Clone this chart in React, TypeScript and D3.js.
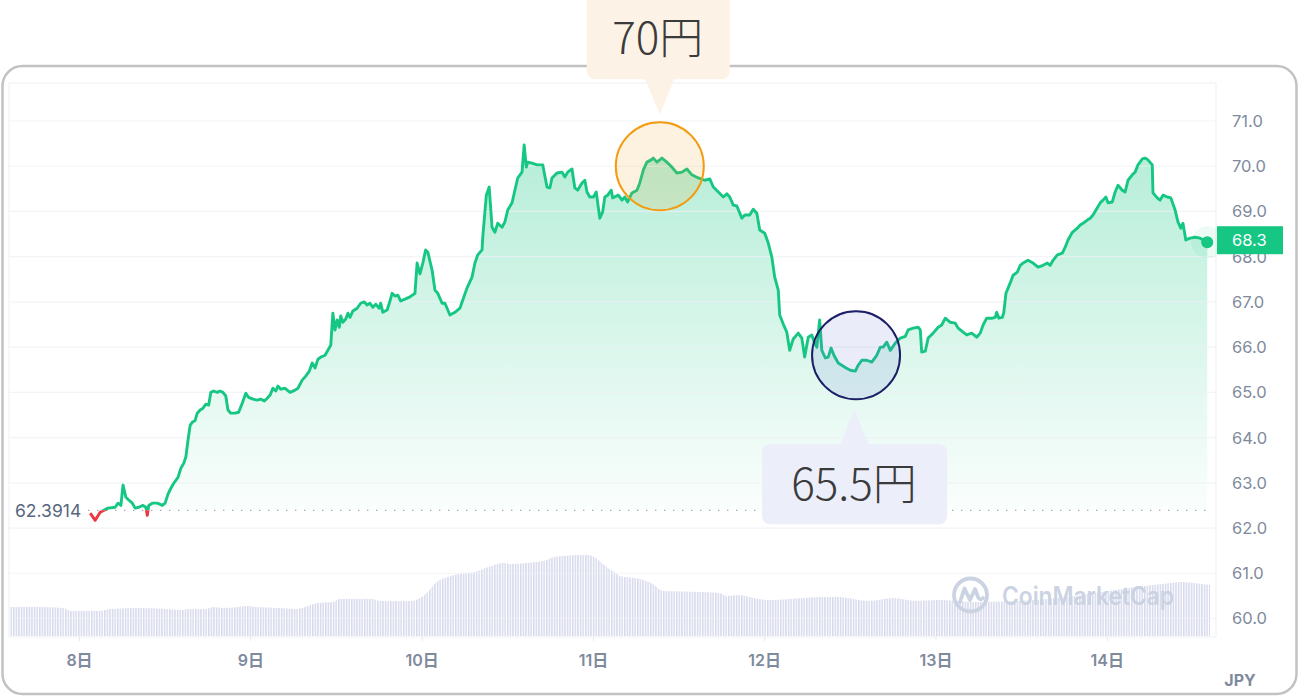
import { area, curveMonotoneX, line, scaleLinear } from "d3";

// hours since 8日 00:00 -> JPY price
const pricePoints: [number, number][] = [
  [1.5, 62.33], [2.2, 62.17], [2.9, 62.35], [3.4, 62.39], [4.0, 62.44], [5.0, 62.46], [5.4, 62.55], [5.8, 62.5],
  [6.1, 62.95], [6.5, 62.68], [6.9, 62.62], [7.4, 62.55], [7.8, 62.44], [8.3, 62.46], [8.9, 62.5], [9.3, 62.46],
  [9.5, 62.28], [9.7, 62.5], [10.2, 62.55], [10.9, 62.55], [11.6, 62.5], [12.0, 62.55], [12.4, 62.75], [12.8, 62.88],
  [13.2, 62.99], [13.8, 63.12], [14.2, 63.32], [14.6, 63.43], [14.9, 63.57], [15.2, 63.94], [15.5, 64.27], [15.8, 64.34],
  [16.2, 64.38], [16.5, 64.54], [16.9, 64.61], [17.3, 64.65], [17.7, 64.74], [18.1, 64.72], [18.4, 65.0], [18.8, 65.03],
  [19.3, 65.0], [19.7, 65.03], [20.1, 65.0], [20.5, 64.92], [20.8, 64.61], [21.2, 64.54], [21.8, 64.54], [22.3, 64.56],
  [22.8, 64.76], [23.3, 64.98], [23.7, 64.89], [24.3, 64.85], [24.9, 64.83], [25.4, 64.85], [25.9, 64.81], [26.3, 64.87],
  [26.7, 64.94], [27.1, 65.09], [27.5, 65.03], [27.8, 65.14], [28.2, 65.07], [28.8, 65.09], [29.5, 65.0], [30.2, 65.05],
  [30.6, 65.09], [31.2, 65.27], [31.7, 65.36], [32.2, 65.47], [32.6, 65.65], [33.0, 65.54], [33.4, 65.73], [33.8, 65.78],
  [34.4, 65.82], [34.8, 65.93], [35.2, 66.04], [35.5, 66.75], [35.8, 66.38], [36.1, 66.6], [36.4, 66.44], [36.6, 66.69],
  [36.9, 66.55], [37.3, 66.62], [37.6, 66.75], [37.9, 66.66], [38.3, 66.8], [38.9, 66.86], [39.4, 66.97], [39.9, 67.0],
  [40.3, 66.93], [40.7, 66.97], [41.1, 66.88], [41.5, 66.95], [42.0, 66.86], [42.2, 66.97], [42.5, 66.77], [43.1, 66.82],
  [43.5, 67.02], [43.8, 67.19], [44.2, 67.13], [44.6, 67.15], [45.0, 67.02], [45.6, 67.06], [46.3, 67.11], [47.0, 67.19],
  [47.3, 67.86], [47.7, 67.62], [48.1, 67.86], [48.5, 68.15], [48.8, 68.1], [49.4, 67.7], [49.8, 67.26], [50.2, 67.19],
  [50.8, 66.97], [51.2, 66.97], [51.9, 66.71], [52.6, 66.77], [53.3, 66.86], [53.7, 67.04], [54.3, 67.31], [55.0, 67.55],
  [55.4, 67.86], [55.8, 68.04], [56.4, 68.15], [56.5, 68.43], [57.0, 69.36], [57.4, 69.54], [57.8, 68.65], [58.2, 68.54],
  [58.6, 68.74], [59.2, 68.65], [59.6, 68.77], [60.0, 69.03], [60.6, 69.19], [61.0, 69.47], [61.4, 69.74], [62.0, 69.87],
  [62.3, 70.47], [62.6, 69.98], [62.8, 70.09], [63.4, 70.07], [64.1, 70.03], [64.9, 70.03], [65.5, 69.54], [65.9, 69.52],
  [66.2, 69.74], [66.9, 69.85], [67.6, 69.87], [68.0, 69.76], [68.4, 69.87], [69.0, 69.94], [69.4, 69.52], [69.8, 69.47],
  [70.4, 69.63], [70.8, 69.69], [71.1, 69.43], [71.5, 69.32], [72.0, 69.32], [72.4, 69.43], [72.6, 69.19], [72.9, 68.85],
  [73.3, 68.99], [73.6, 69.32], [74.0, 69.36], [74.5, 69.47], [74.7, 69.3], [75.5, 69.36], [76.0, 69.25], [76.4, 69.32],
  [76.8, 69.21], [77.4, 69.41], [78.1, 69.47], [78.5, 69.63], [79.0, 69.92], [79.5, 70.09], [80.1, 70.14], [80.4, 70.18],
  [80.9, 70.09], [81.6, 70.18], [82.3, 70.09], [83.0, 69.98], [83.7, 69.85], [84.4, 69.87], [85.1, 69.94], [85.8, 69.81],
  [86.7, 69.74], [87.6, 69.69], [88.3, 69.72], [88.8, 69.54], [89.5, 69.43], [90.2, 69.32], [90.7, 69.39], [91.1, 69.32],
  [91.6, 69.14], [92.1, 69.12], [92.8, 68.85], [93.2, 68.92], [93.9, 68.92], [94.4, 69.05], [94.9, 68.96], [95.3, 68.59],
  [96.0, 68.52], [96.5, 68.3], [97.0, 67.99], [97.4, 67.55], [97.9, 67.26], [98.1, 66.71], [98.6, 66.51], [99.1, 66.33],
  [99.5, 65.93], [100.0, 66.18], [100.7, 66.31], [101.2, 66.2], [101.6, 65.78], [102.1, 66.22], [102.6, 66.27], [103.0, 66.09],
  [103.3, 66.0], [103.7, 66.6], [104.0, 65.93], [104.5, 65.76], [104.9, 65.78], [105.3, 65.98], [105.7, 65.82], [106.3, 65.65],
  [106.8, 65.6], [107.4, 65.54], [108.0, 65.49], [108.7, 65.47], [109.1, 65.6], [109.6, 65.71], [110.3, 65.71], [111.0, 65.67],
  [111.7, 65.82], [112.2, 66.0], [112.6, 66.0], [113.1, 66.11], [113.6, 65.93], [114.3, 66.09], [115.0, 66.2], [115.7, 66.24],
  [116.1, 66.38], [116.8, 66.42], [117.5, 66.44], [117.8, 66.38], [118.0, 65.89], [118.5, 65.91], [118.9, 66.2], [119.6, 66.31],
  [120.3, 66.44], [120.8, 66.49], [121.3, 66.64], [122.0, 66.55], [122.7, 66.53], [123.1, 66.42], [123.8, 66.33], [124.3, 66.27],
  [125.0, 66.31], [125.7, 66.22], [126.2, 66.31], [126.6, 66.49], [127.1, 66.64], [127.9, 66.64], [128.3, 66.66], [128.5, 66.77],
  [128.8, 66.64], [129.3, 66.66], [129.5, 66.77], [129.8, 67.19], [130.4, 67.42], [130.8, 67.59], [131.4, 67.66], [131.8, 67.81],
  [132.2, 67.86], [132.9, 67.92], [133.6, 67.86], [134.3, 67.77], [135.0, 67.81], [135.6, 67.86], [136.0, 67.81], [136.4, 67.92],
  [137.0, 68.04], [137.7, 68.08], [138.1, 68.21], [138.5, 68.37], [139.1, 68.54], [139.8, 68.63], [140.2, 68.7], [140.6, 68.74],
  [141.2, 68.81], [141.6, 68.85], [142.0, 68.92], [142.6, 69.08], [143.0, 69.19], [143.4, 69.25], [143.8, 69.32], [144.1, 69.19],
  [144.7, 69.21], [145.1, 69.43], [145.5, 69.58], [146.1, 69.47], [146.5, 69.43], [146.9, 69.69], [147.5, 69.81], [147.9, 69.87],
  [148.3, 70.03], [148.9, 70.16], [149.3, 70.18], [149.7, 70.14], [150.3, 70.03], [150.4, 69.41], [151.0, 69.3], [151.4, 69.25],
  [151.8, 69.36], [152.4, 69.32], [152.9, 69.3], [153.5, 69.03], [153.9, 68.77], [154.3, 68.63], [154.6, 68.74], [155.0, 68.37],
  [155.6, 68.41], [156.3, 68.43], [157.0, 68.41], [158.0, 68.32],
];

// hours -> relative volume (envelope of the volume bars)
const volumePoints: [number, number][] = [
  [-9.7, 29], [-5.5, 29], [-2.3, 28], [-1.2, 25], [2.7, 25], [4.4, 27], [8.3, 28], [12.1, 27], [14.4, 26], [15.5, 27],
  [17.7, 27], [18.8, 29], [20.0, 28], [22.2, 29], [23.3, 30], [24.9, 29], [27.7, 28], [30.5, 27], [31.6, 29], [33.3, 33],
  [35.5, 34], [36.4, 37], [41.0, 37], [42.1, 35], [44.3, 35], [46.6, 35], [47.7, 38], [48.8, 44], [49.9, 53], [51.6, 59],
  [53.2, 62], [55.4, 64], [57.7, 70], [59.3, 73], [60.5, 72], [62.7, 73], [65.5, 76], [66.5, 79], [70.9, 81], [72.1, 79],
  [73.2, 73], [74.0, 68], [74.9, 64], [75.7, 60], [78.5, 57], [80.1, 53], [81.8, 45], [86.8, 44], [89.6, 43], [90.7, 40],
  [92.4, 41], [95.1, 37], [96.7, 36], [99.5, 37], [104.0, 39], [106.3, 39], [110.6, 35], [114.0, 38], [117.3, 35], [120.1, 36],
  [125.6, 34], [134.0, 36], [145.1, 46], [147.9, 49], [151.7, 52], [154.5, 54], [156.1, 53], [158.4, 51],
];

const dayLabels = ["8日", "9日", "10日", "11日", "12日", "13日", "14日"];
const priceTicks = [60, 61, 62, 63, 64, 65, 66, 67, 68, 69, 70, 71];
const basePrice = 62.3914;
const lastPrice = 68.3;

const highlights = [
  { label: "70円", hour: 81.3, price: 70.0, side: "top", stroke: "#f39c12", fill: "rgba(243,156,18,0.13)", box: "#fdf2e6" },
  { label: "65.5円", hour: 108.8, price: 65.82, side: "bottom", stroke: "#1c1f66", fill: "rgba(96,108,214,0.13)", box: "#eceefa" },
];

const GREEN = "#16c784";
const RED = "#ea3943";
const AXIS = "#808a9d";
const FONT = "Inter, 'Noto Sans CJK JP', sans-serif";
const CALLOUT_FONT = "'Noto Sans CJK JP', 'Noto Sans', sans-serif";

export default function App() {
  const plot = { left: 9, right: 1216, top: 83, bottom: 637 };

  const x = scaleLinear().domain([0, 144]).range([79.5, 1107.3]);
  const y = scaleLinear().domain([60, 71]).range([618.5, 121]);
  const volY = scaleLinear().domain([0, 100]).range([636, 536]);

  const yBase = y(basePrice);
  const priceLine = line<[number, number]>().x((d) => x(d[0])).y((d) => y(d[1]));
  const priceArea = area<[number, number]>().x((d) => x(d[0])).y0(yBase).y1((d) => y(d[1]));
  const volArea = area<[number, number]>()
    .x((d) => x(d[0]))
    .y0(volY(0))
    .y1((d) => volY(d[1]))
    .curve(curveMonotoneX);

  const last = pricePoints[pricePoints.length - 1];
  const lx = x(last[0]);
  const ly = y(last[1]);

  return (
    <svg width={1300} height={697} style={{ position: "absolute", left: 0, top: 0, background: "#fff" }}>
      <defs>
        <linearGradient id="priceFill" gradientUnits="userSpaceOnUse" x1={0} x2={0} y1={y(70.5)} y2={yBase}>
          <stop offset="0%" stopColor={GREEN} stopOpacity={0.32} />
          <stop offset="100%" stopColor={GREEN} stopOpacity={0.02} />
        </linearGradient>
        <pattern id="volStripes" width={2.6} height={10} patternUnits="userSpaceOnUse">
          <rect width={1.5} height={10} fill="#d6d9ec" />
        </pattern>
        <clipPath id="aboveBase">
          <rect x={0} y={0} width={1300} height={yBase} />
        </clipPath>
        <clipPath id="belowBase">
          <rect x={0} y={yBase} width={1300} height={697 - yBase} />
        </clipPath>
      </defs>

      {/* outer card */}
      <rect x={2.5} y={66} width={1294} height={628} rx={20} fill="#fff" stroke="#c2c2c2" strokeWidth={2.5} />

      {/* plot frame */}
      <rect x={plot.left} y={plot.top} width={plot.right - plot.left} height={plot.bottom - plot.top}
        fill="none" stroke="#eff2f5" strokeWidth={1.2} />

      {/* volume */}
      <path d={volArea(volumePoints) ?? ""} fill="url(#volStripes)" />

      {/* watermark */}
      <g>
        <circle cx={970.5} cy={595} r={16.5} fill="none" stroke="#cbd3e3" strokeWidth={3.8} />
        <path d="M960 602 L964.5 588.5 L970 600 L975 589 L978 597 Q980 601 983 598" fill="none"
          stroke="#cbd3e3" strokeWidth={3.8} strokeLinejoin="round" strokeLinecap="round" />
        <text x={1002} y={605} fontFamily={FONT} fontSize={25} fontWeight={600} fill="#cbd3e3"
          textLength={172} lengthAdjust="spacingAndGlyphs">CoinMarketCap</text>
      </g>

      {/* price area */}
      <path d={priceArea(pricePoints) ?? ""} fill="url(#priceFill)" />

      {/* grid */}
      {priceTicks.map((t) => (
        <line key={`g-${t}`} x1={plot.left} x2={plot.right} y1={y(t)} y2={y(t)} stroke="#eef0f4" strokeOpacity={0.75} strokeWidth={1.2} />
      ))}
      {dayLabels.map((d, i) => (
        <line key={`t-${d}`} x1={x(i * 24)} x2={x(i * 24)} y1={plot.bottom} y2={plot.bottom + 4} stroke="#e6e9ef" />
      ))}

      {/* base line */}
      <line x1={88} x2={1210} y1={yBase} y2={yBase} stroke="#a3abb9" strokeWidth={1.4} strokeDasharray="1.4 7.6" />
      <text x={15} y={yBase + 7} fontFamily={FONT} fontSize={17.5} fill="#58667e">{basePrice}</text>

      {/* price line */}
      <path d={priceLine(pricePoints) ?? ""} fill="none" stroke={GREEN} strokeWidth={2.9} strokeLinejoin="round" clipPath="url(#aboveBase)" />
      <path d={priceLine(pricePoints) ?? ""} fill="none" stroke={RED} strokeWidth={2.9} strokeLinejoin="round" clipPath="url(#belowBase)" />

      <circle cx={lx} cy={ly} r={16} fill={GREEN} fillOpacity={0.08} />
      <circle cx={lx} cy={ly} r={6} fill={GREEN} />

      {/* highlights */}
      {highlights.map((h) => {
        const cx = x(h.hour);
        const cy = y(h.price);
        const r = 44;
        if (h.side === "top") {
          const bottom = cy - 87;
          return (
            <g key={h.label}>
              <circle cx={cx} cy={cy} r={r} fill={h.fill} stroke={h.stroke} strokeWidth={2} />
              <rect x={cx - 73} y={-12} width={143} height={bottom + 12} rx={8} fill={h.box} />
              <path d={`M${cx - 15},${bottom - 1} L${cx + 15},${bottom - 1} L${cx},${cy - 52} Z`} fill={h.box} />
              <text x={cx - 2} y={cy - 112} textAnchor="middle" fontFamily={CALLOUT_FONT}
                fontSize={44} fontWeight={300} fill="#3b3b3b">{h.label}</text>
            </g>
          );
        }
        const top = cy + 89;
        return (
          <g key={h.label}>
            <circle cx={cx} cy={cy} r={r} fill={h.fill} stroke={h.stroke} strokeWidth={2} />
            <rect x={cx - 94} y={top} width={185} height={80} rx={8} fill={h.box} />
            <path d={`M${cx - 16},${top + 1} L${cx + 13},${top + 1} L${cx - 2},${cy + 54} Z`} fill={h.box} />
            <text x={cx - 2} y={cy + 145} textAnchor="middle" fontFamily={CALLOUT_FONT}
              fontSize={44} fontWeight={300} fill="#3b3b3b">{h.label}</text>
          </g>
        );
      })}

      {/* right axis */}
      {priceTicks.map((t) => (
        <text key={`l-${t}`} x={1232} y={y(t)} dy="0.36em" fontFamily={FONT} fontSize={16.5} fill={AXIS}>{t.toFixed(1)}</text>
      ))}
      <rect x={1217} y={ly - 16} width={66} height={28} fill={GREEN} />
      <text x={1232} y={ly - 2} dy="0.36em" fontFamily={FONT} fontSize={16.5} fill="#fff">{lastPrice.toFixed(1)}</text>

      {/* bottom axis */}
      {dayLabels.map((d, i) => (
        <text key={d} x={x(i * 24)} y={666} textAnchor="middle" fontFamily={FONT} fontSize={16} fontWeight={600} fill={AXIS}>{d}</text>
      ))}
      <text x={1240} y={686} textAnchor="middle" fontFamily={FONT} fontSize={16} fontWeight={700} fill={AXIS}>JPY</text>
    </svg>
  );
}
